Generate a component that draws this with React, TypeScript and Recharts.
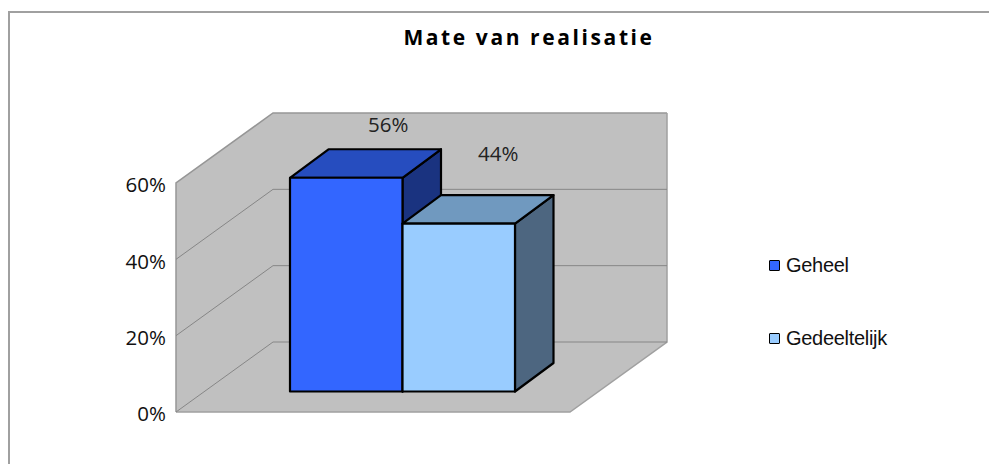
import React from "react";
import { BarChart, Bar, XAxis, YAxis, Legend, LabelList, ReferenceArea, Customized } from "recharts";

const categories = ["Mate van realisatie"];
const geheel = [0.56];
const gedeeltelijk = [0.44];
const yTicks = [0, 0.2, 0.4, 0.6];
const chartTitle = "Mate van realisatie";

const data = categories.map((c, i) => ({ name: c, Geheel: geheel[i], Gedeeltelijk: gedeeltelijk[i] }));

const WALL_DX = 97;
const WALL_DY = -70;
const BAR_SHIFT_X = 29;
const BAR_SHIFT_Y = -20.5;
const BAR_DX = 38.5;
const BAR_DY = -28.5;
const W = 989;
const H = 464;
const labelFont = "'Open Sans', sans-serif";

const pts = (a: number[][]) => a.map((p) => p.join(",")).join(" ");

function Walls(props: any) {
  const { x, y, width, height } = props;
  const b = y + height;
  const r = x + width;
  return (
    <g>
      <polygon
        points={pts([[x, y], [x + WALL_DX, y + WALL_DY], [r + WALL_DX, y + WALL_DY], [r + WALL_DX, b + WALL_DY], [r, b], [x, b]])}
        fill="#c0c0c0"
        stroke="none"
      />
      <path d={`M${x},${b} L${x},${y} L${x + WALL_DX},${y + WALL_DY} L${r + WALL_DX},${y + WALL_DY}`} fill="none" stroke="#969696" strokeWidth={1.5} />
      <path d={`M${r + WALL_DX},${y + WALL_DY} L${r + WALL_DX},${b + WALL_DY} L${r},${b} L${x},${b}`} fill="none" stroke="#a0a0a0" strokeWidth={1.5} />
    </g>
  );
}

function BandLine(props: any) {
  const { x, y, width, height } = props;
  const b = y + height;
  const r = x + width;
  return (
    <path
      d={`M${x},${b} L${x + WALL_DX},${b + WALL_DY} L${r + WALL_DX},${b + WALL_DY}`}
      fill="none"
      stroke="#868686"
      strokeWidth={1}
    />
  );
}

function Box(props: any) {
  const { x, y, width, height, fill, topFill, sideFill } = props;
  const l = x + BAR_SHIFT_X;
  const t = y + BAR_SHIFT_Y;
  const r = l + width;
  const b = t + height;
  const s = { stroke: "#000", strokeWidth: 2.2, strokeLinejoin: "round" as const };
  return (
    <g>
      <polygon points={pts([[r, t], [r + BAR_DX, t + BAR_DY], [r + BAR_DX, b + BAR_DY], [r, b]])} fill={sideFill} {...s} />
      <polygon points={pts([[l, t], [l + BAR_DX, t + BAR_DY], [r + BAR_DX, t + BAR_DY], [r, t]])} fill={topFill} {...s} />
      <rect x={l} y={t} width={width} height={height} fill={fill} {...s} />
    </g>
  );
}

function ValueLabel(props: any) {
  const { x, y, width, value, dx, dy } = props;
  return (
    <text
      x={x + width / 2 + dx}
      y={y + dy}
      textAnchor="middle"
      dominantBaseline="central"
      fontFamily={labelFont}
      fontSize={20.5}
      fill="#222"
    >
      {`${Math.round(value * 100)}%`}
    </text>
  );
}

function Frame() {
  return (
    <g>
      <path d={`M9,${H} L9,12 L${W},12`} fill="none" stroke="#a0a0a0" strokeWidth={2} />
      <text x={529} y={45} textAnchor="middle" fontFamily={labelFont} fontWeight={700} fontSize={21} letterSpacing={2.6} fill="#000">
        {chartTitle}
      </text>
    </g>
  );
}

function LegendBox(props: any) {
  const items = props.payload || [];
  return (
    <div style={{ position: "relative", width: 200, height: 100 }}>
      {items.map((it: any, i: number) => (
        <div key={it.value} style={{ position: "absolute", left: 0, top: i * 73, display: "flex", alignItems: "center", height: 22 }}>
          <span style={{ display: "inline-block", width: 9, height: 9, background: it.color, border: "1.5px solid #000", borderRadius: 1 }} />
          <span style={{ marginLeft: 6, fontFamily: "'Liberation Sans', sans-serif", fontSize: 20, letterSpacing: -0.3, color: "#111" }}>{it.value}</span>
        </div>
      ))}
    </div>
  );
}

export default function App() {
  return (
    <div style={{ position: "absolute", left: 0, top: 0, width: W, height: H, background: "#fff", overflow: "hidden" }}>
      <BarChart
        width={W}
        height={H}
        data={data}
        margin={{ top: 183, right: 219, bottom: 52, left: 0 }}
        barCategoryGap="21.5%"
        barGap={0}
      >
        <Customized component={<Frame />} />
        <ReferenceArea y1={0} y2={0.6} shape={<Walls />} ifOverflow="visible" />
        {yTicks.slice(0, -1).map((t, i) => (
          <ReferenceArea key={t} y1={t} y2={yTicks[i + 1]} shape={<BandLine />} ifOverflow="visible" />
        ))}
        <XAxis dataKey="name" hide />
        <YAxis
          width={176}
          domain={[0, 0.6]}
          ticks={yTicks}
          tickFormatter={(v: number) => `${Math.round(v * 100)}%`}
          axisLine={false}
          tickLine={false}
          tickSize={0}
          tickMargin={10}
          tick={{ fontFamily: labelFont, fontSize: 20.5, fill: "#111", dy: 2 }}
        />
        <Legend
          layout="vertical"
          align="right"
          verticalAlign="top"
          itemSorter={null}
          content={<LegendBox />}
          wrapperStyle={{ left: 769, top: 254, width: 200, right: "auto" }}
        />
        <Bar dataKey="Geheel" fill="#3366ff" barSize={112.5} isAnimationActive={false} shape={<Box topFill="#264dbf" sideFill="#1a3380" />}>
          <LabelList dataKey="Geheel" content={<ValueLabel dx={71} dy={-74} />} />
        </Bar>
        <Bar dataKey="Gedeeltelijk" fill="#99ccff" barSize={112.5} isAnimationActive={false} shape={<Box topFill="#7099bf" sideFill="#4d6680" />}>
          <LabelList dataKey="Gedeeltelijk" content={<ValueLabel dx={68.5} dy={-91} />} />
        </Bar>
      </BarChart>
    </div>
  );
}
